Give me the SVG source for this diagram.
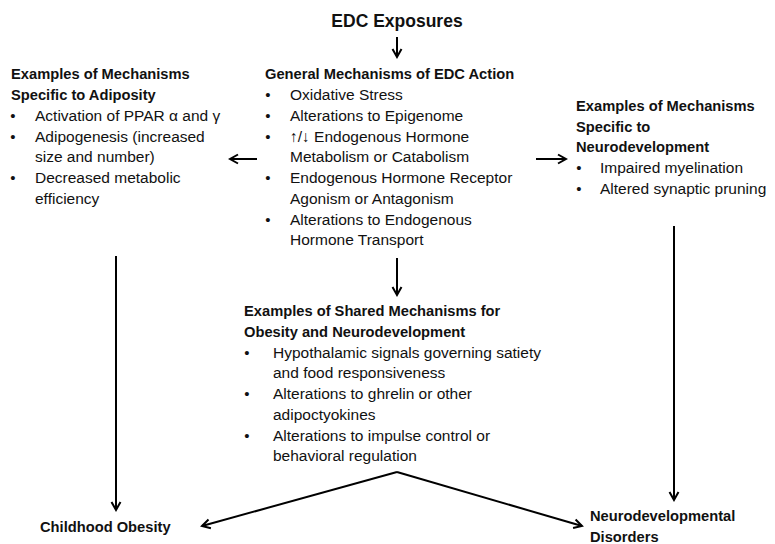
<svg xmlns="http://www.w3.org/2000/svg" width="775" height="544" viewBox="0 0 775 544">
<defs>
<style>
text{font-family:"Liberation Sans",Arial,sans-serif;fill:#111;}
.h{font-weight:bold;font-size:14.7px;}
.t{font-size:15.5px;}
.b{font-size:15px;text-anchor:middle;}
.title{font-weight:bold;font-size:17.5px;text-anchor:middle;}
.c{stroke:#000;stroke-width:2;fill:none;marker-end:url(#ah);}
</style>
<marker id="ah" markerUnits="userSpaceOnUse" viewBox="-10 -6 12 12" refX="0" refY="0" markerWidth="12" markerHeight="12" orient="auto">
<path d="M-8,-4.5 L0,0 L-8,4.5" fill="none" stroke="#000" stroke-width="2"/>
</marker>
</defs>
<rect width="775" height="544" fill="#fff"/>
<g id="edc-exposures"><text class="title" x="397" y="27">EDC Exposures</text></g>
<g id="general-mechanisms">
<text class="h" x="265" y="79">General Mechanisms of EDC Action</text>
<text class="b" x="268" y="100">•</text><text class="t" x="290" y="100">Oxidative Stress</text>
<text class="b" x="268" y="121">•</text><text class="t" x="290" y="121">Alterations to Epigenome</text>
<text class="b" x="268" y="142">•</text><text class="t" x="290" y="142">↑/↓ Endogenous Hormone</text>
<text class="t" x="290" y="162">Metabolism or Catabolism</text>
<text class="b" x="268" y="183">•</text><text class="t" x="290" y="183">Endogenous Hormone Receptor</text>
<text class="t" x="290" y="204">Agonism or Antagonism</text>
<text class="b" x="268" y="225">•</text><text class="t" x="290" y="225">Alterations to Endogenous</text>
<text class="t" x="290" y="245">Hormone Transport</text>
</g>
<g id="adiposity">
<text class="h" x="11" y="79">Examples of Mechanisms</text>
<text class="h" x="11" y="100">Specific to Adiposity</text>
<text class="b" x="13" y="121">•</text><text class="t" x="35" y="121">Activation of PPAR α and γ</text>
<text class="b" x="13" y="142">•</text><text class="t" x="35" y="142">Adipogenesis (increased</text>
<text class="t" x="35" y="162">size and number)</text>
<text class="b" x="13" y="183">•</text><text class="t" x="35" y="183">Decreased metabolic</text>
<text class="t" x="35" y="204">efficiency</text>
</g>
<g id="neurodevelopment">
<text class="h" x="576" y="111">Examples of Mechanisms</text>
<text class="h" x="576" y="132">Specific to</text>
<text class="h" x="576" y="152">Neurodevelopment</text>
<text class="b" x="579" y="173">•</text><text class="t" x="600" y="173">Impaired myelination</text>
<text class="b" x="579" y="194">•</text><text class="t" x="600" y="194">Altered synaptic pruning</text>
</g>
<g id="shared-mechanisms">
<text class="h" x="244" y="316">Examples of Shared Mechanisms for</text>
<text class="h" x="244" y="337">Obesity and Neurodevelopment</text>
<text class="b" x="247" y="358">•</text><text class="t" x="273" y="358">Hypothalamic signals governing satiety</text>
<text class="t" x="273" y="378">and food responsiveness</text>
<text class="b" x="247" y="399">•</text><text class="t" x="273" y="399">Alterations to ghrelin or other</text>
<text class="t" x="273" y="420">adipoctyokines</text>
<text class="b" x="247" y="441">•</text><text class="t" x="273" y="441">Alterations to impulse control or</text>
<text class="t" x="273" y="461">behavioral regulation</text>
</g>
<g id="childhood-obesity"><text class="h" x="40" y="532">Childhood Obesity</text></g>
<g id="neurodevelopmental-disorders">
<text class="h" x="590" y="521">Neurodevelopmental</text>
<text class="h" x="590" y="542">Disorders</text>
</g>
<g id="connectors">
<path class="c" d="M397,37 L397,57"/>
<path class="c" d="M257,159 L230,159"/>
<path class="c" d="M536,159 L566,159"/>
<path class="c" d="M397,258 L397,295"/>
<path class="c" d="M116,256 L116,510"/>
<path class="c" d="M674,226 L674,500"/>
<path class="c" d="M397,472 L202,526"/>
<path class="c" d="M397,472 L582,526"/>
</g>
</svg>
